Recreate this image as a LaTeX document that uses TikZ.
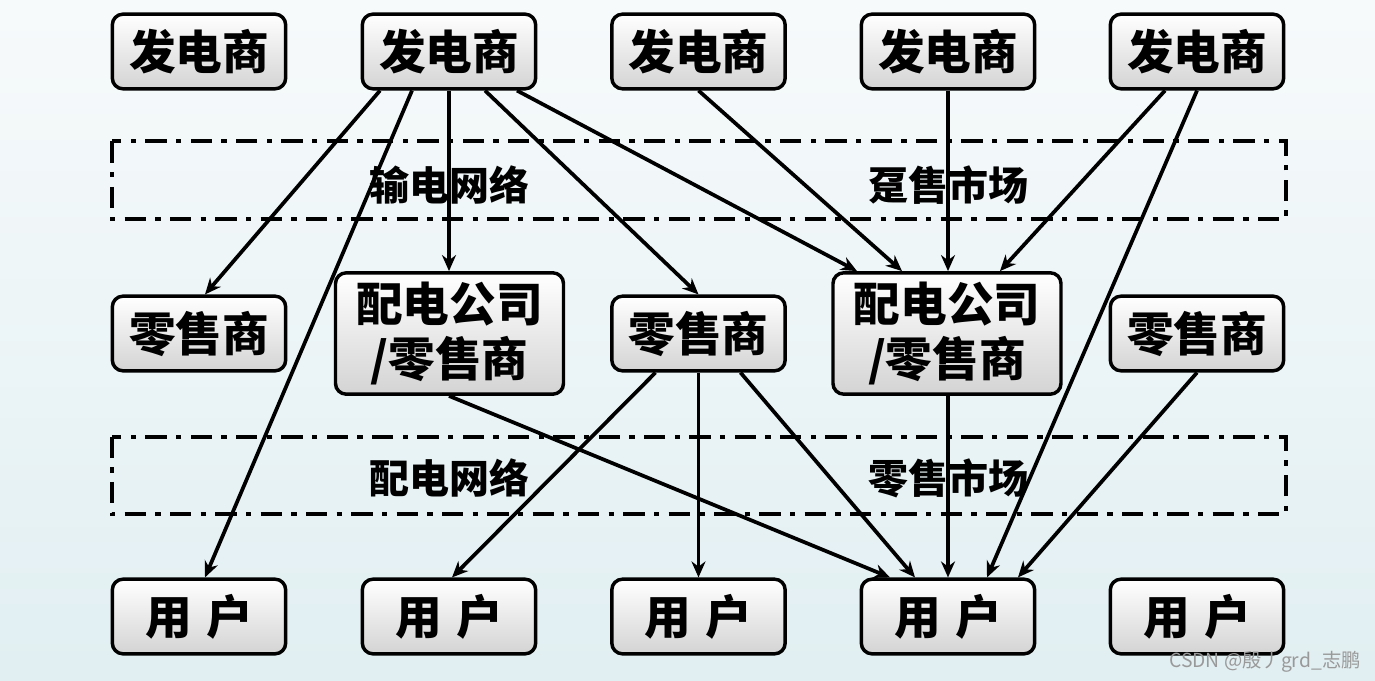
\documentclass[tikz,border=0pt]{standalone}
\usepackage{fontspec}
\newfontfamily\cjk{Noto Sans CJK SC}
\usetikzlibrary{arrows.meta,calc}
\newcommand\boxfont{\cjk\bfseries\fontsize{35}{41}\selectfont}
\tikzset{
  box/.style={draw=black, line width=2.6pt, rounded corners=8pt,
    top color=white, bottom color=black!17,
    minimum width=130pt, minimum height=56pt, inner sep=0pt,
    font=\boxfont, align=center},
  bigbox/.style={box, minimum width=171pt, minimum height=91pt},
  arr/.style={line width=2.8pt, -{Stealth[length=12pt,width=10.5pt]}},
  zone/.style={draw=black, line width=3pt, dash pattern=on 16pt off 7pt on 4pt off 7pt},
  zlabel/.style={font=\cjk\bfseries\fontsize{30}{32}\selectfont, inner sep=0pt}
}
\begin{document}
\begin{tikzpicture}[x=0.75pt,y=-0.75pt]
\shade[top color={rgb,255:red,247;green,250;blue,251}, bottom color={rgb,255:red,225;green,239;blue,242}]
  (0,0) rectangle (1375,681);
\useasboundingbox (0,0) rectangle (1375,681);
% zones
\draw[zone] (111.5,141.5) rectangle (1285.5,219);
\draw[zone] (111.5,436.5) rectangle (1285.5,514);
\node[zlabel] (l1) at (449,185) {输电网络};
\node[zlabel] (l2) at (948,185) {趸售市场};
\node[zlabel] (l3) at (449,478) {配电网络};
\node[zlabel] (l4) at (948,478) {零售市场};
% generators
\node[box] (g1) at (199,51.5) {发电商};
\node[box] (g2) at (449,51.5) {发电商};
\node[box] (g3) at (698.5,51.5) {发电商};
\node[box] (g4) at (948,51.5) {发电商};
\node[box] (g5) at (1197,51.5) {发电商};
% middle
\node[box] (r1) at (199,333.5) {零售商};
\node[bigbox] (dA) at (449.5,333.5) {配电公司\\/零售商};
\node[box] (r2) at (698.5,333.5) {零售商};
\node[bigbox] (dB) at (947,333.5) {配电公司\\/零售商};
\node[box] (r3) at (1197,333.5) {零售商};
% users
\node[box] (u1) at (199,616.5) {用\hspace{0.3em}户};
\node[box] (u2) at (449,616.5) {用\hspace{0.3em}户};
\node[box] (u3) at (698.5,616.5) {用\hspace{0.3em}户};
\node[box] (u4) at (948,616.5) {用\hspace{0.3em}户};
\node[box] (u5) at (1197,616.5) {用\hspace{0.3em}户};
% arrows
\draw[arr] ($(g2.south)+(-69,0)$) -- ($(r1.north)+(6,0)$);
\draw[arr] ($(g2.south)+(-37,0)$) -- ($(u1.north)+(6,0)$);
\draw[arr] (g2.south) -- ($(dA.north)+(-0.5,0)$);
\draw[arr] ($(g2.south)+(36,0)$) -- (r2.north);
\draw[arr] ($(g2.south)+(68,0)$) -- ($(dB.north)+(-90,0)$);
\draw[arr] (g3.south) -- ($(dB.north)+(-45,0)$);
\draw[arr] (g4.south) -- ($(dB.north)+(1,0)$);
\draw[arr] ($(g5.south)+(-32,0)$) -- ($(dB.north)+(53,0)$);
\draw[arr] (g5.south) -- ($(u4.north)+(39,0)$);
\draw[arr] ($(dA.south)+(-0.5,0)$) -- ($(u4.north)+(-58,0)$);
\draw[arr] ($(r2.south)+(-43,0)$) -- ($(u2.north)+(3,0)$);
\draw[arr] (r2.south) -- (u3.north);
\draw[arr] ($(r2.south)+(42,0)$) -- ($(u4.north)+(-33,0)$);
\draw[arr] ($(dB.south)+(1,0)$) -- (u4.north);
\draw[arr] (r3.south) -- ($(u4.north)+(70,0)$);
% watermark
\node[font=\cjk\fontsize{14.5}{16}\selectfont, text=black!40, anchor=east, inner sep=0pt] (wm) at (1361,662) {CSDN @殷丿grd\_志鹏};
\end{tikzpicture}
\end{document}
